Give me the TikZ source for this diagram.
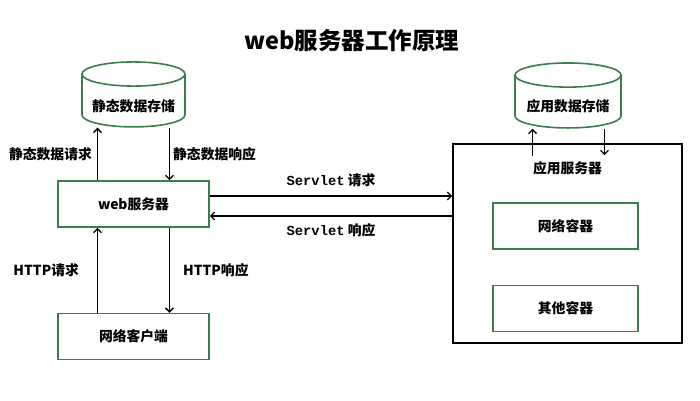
\documentclass[tikz,border=0pt]{standalone}
\usepackage{fontspec}
\setmainfont{Noto Sans CJK SC}
\newfontfamily\monofont{Liberation Mono}
\usepackage{xcolor}
\usetikzlibrary{shapes,arrows,positioning,calc,arrows.meta}
\definecolor{boxgreen}{HTML}{3B7D4F}

\begin{document}
\begin{tikzpicture}[x=1pt, y=-1pt, >={Straight Barb[length=4pt,width=8pt]},
    font=\fontsize{13.8}{16}\selectfont\bfseries,
    greenbox/.style={draw=boxgreen, line width=1.6pt, rectangle, minimum height=46pt, minimum width=151pt},
    store/.style={draw=boxgreen, line width=1.6pt, cylinder, shape border rotate=90, aspect=0.27},
    link/.style={->, line width=1.3pt}]
    \useasboundingbox (0,0) rectangle (700,400);
    \node [font=\fontsize{23.5}{28}\selectfont\bfseries] (title) at (352,41) {web服务器工作原理};

    % left side
    \node [greenbox] (web) at (133.5,204) {web服务器};
    \node [greenbox, below=85pt of web] (client) {网络客户端};
    \node [store, minimum width=103pt, minimum height=65pt] (static) at (133.5,103) {\phantom{静态数据存储}};
    \node (staticlabel) at (133.5,106) {静态数据存储};

    % right side
    \node [draw, rectangle, line width=1.6pt, minimum width=229pt, minimum height=199pt] (app) at (567.5,243.5) {};
    \node [below=16pt of app.north, inner sep=2pt] (applabel) {应用服务器};
    \node [greenbox, minimum width=145pt] (webcont) at (565.5,226) {网络容器};
    \node [greenbox, minimum width=145pt, below=35pt of webcont] (other) {其他容器};
    \node [store, minimum width=106pt, minimum height=65pt] (appdata) at (568,104) {\phantom{应用数据存储}};
    \node (appdatalabel) at (568,106) {应用数据存储};

    \draw [link] ([xshift=-36pt]web.north) -- ([xshift=-36pt]web.north |- static.south) node[midway, left, inner sep=5pt] {静态数据请求};
    \draw [link] ([xshift=36pt]web.north |- static.south) -- ([xshift=36pt]web.north) node[midway, right, inner sep=3pt] {静态数据响应};
    \draw [link] ([xshift=-36pt]client.north) -- ([xshift=-36pt]web.south) node[midway, left, inner sep=18pt] {HTTP请求};
    \draw [link] ([xshift=36pt]web.south) -- ([xshift=36pt]client.north) node[midway, right, inner sep=13pt] {HTTP响应};

    \draw [link] ([yshift=8pt]web.east) -- ([yshift=8pt]web.east -| app.west) node[midway, above, inner sep=9pt] {{\monofont Servlet} 请求};
    \draw [link] ([yshift=-12pt]web.east -| app.west) -- ([yshift=-12pt]web.east) node[midway, below, inner sep=7pt] {{\monofont Servlet} 响应};

    \draw [link] ([xshift=-35pt,yshift=-13pt]app.north) -- ([xshift=-35pt]app.north |- appdata.south);
    \draw [link] ([xshift=37pt]app.north |- appdata.south) -- ([xshift=37pt,yshift=-12pt]app.north);
\end{tikzpicture}
\end{document}
